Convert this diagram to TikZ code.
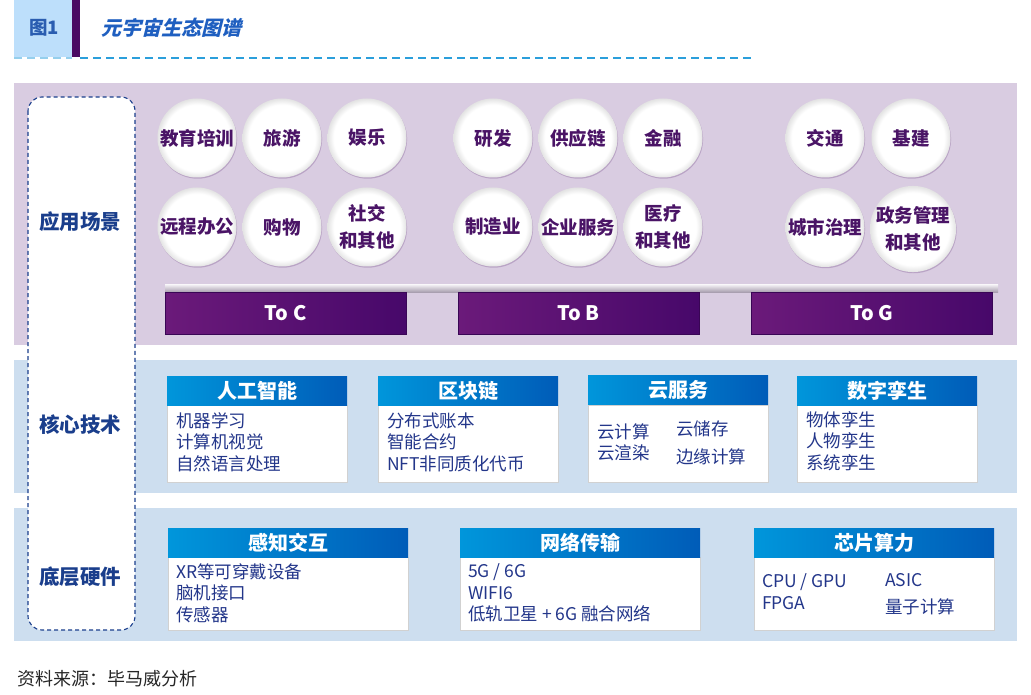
\documentclass[tikz,border=0pt]{standalone}
\usepackage{fontspec}
\setmainfont{Noto Sans CJK SC}
\usetikzlibrary{shadows}
\definecolor{purplebg}{HTML}{D9CCE1}
\definecolor{bluebg}{HTML}{CDDEEF}
\definecolor{titleblue}{HTML}{1F5FC0}
\definecolor{labelblue}{HTML}{1A3E8C}
\definecolor{bodyblue}{HTML}{23368A}
\definecolor{circtext}{HTML}{4A1466}
\definecolor{toleft}{HTML}{6B1A7A}
\definecolor{toright}{HTML}{47086A}
\definecolor{hdleft}{HTML}{0096DB}
\definecolor{hdright}{HTML}{005CB8}
\definecolor{dashblue}{HTML}{2B9FDB}
\definecolor{figbox}{HTML}{BDDFFB}
\definecolor{figbar}{HTML}{4A0A63}
\definecolor{figtext}{HTML}{2A5DB0}
\pgfdeclareradialshading{ballshade}{\pgfpoint{0bp}{0bp}}{color(0bp)=(white); color(21bp)=(white); color(25bp)=(black!11); color(50bp)=(black!11)}
\tikzset{
  bub/.style={circle, minimum size=79pt, inner sep=0pt, shading=ballshade, align=center,
    text=circtext, font=\fontsize{18.5}{26.5}\selectfont\bfseries,
    drop shadow={opacity=0.22, shadow xshift=0.6pt, shadow yshift=-1.2pt, fill=circtext}},
  tobox/.style={minimum width=241pt, minimum height=42pt, inner sep=0pt, left color=toleft, right color=toright,
    draw=toright!80!black, line width=0.4pt, text=white, font=\fontsize{20}{24}\selectfont\bfseries},
  hd/.style={minimum height=29pt, inner sep=0pt, left color=hdleft, right color=hdright,
    text=white, font=\fontsize{20}{24}\selectfont\bfseries},
  bodybox/.style={fill=white, draw=black!18, line width=0.5pt, inner sep=0pt,
    drop shadow={opacity=0.15, shadow xshift=0.8pt, shadow yshift=-0.8pt}},
  bodytxt/.style={anchor=west, align=left, inner sep=0pt, text=bodyblue, font=\fontsize{17.5}{21.5}\selectfont},
  sidelab/.style={text=labelblue, font=\fontsize{20.5}{24}\selectfont\bfseries},
}
\begin{document}
\begin{tikzpicture}[x=1pt,y=-1pt]
\useasboundingbox (0,0) rectangle (1031,695);
% header
\fill[figbox] (14,0) rectangle (72,57);
\fill[figbar] (72,0) rectangle (80,57);
\node[text=figtext, font=\fontsize{18.5}{22}\selectfont\bfseries] (fig) at (44,28) {图1};
\node[anchor=west, text=titleblue, font=\fontsize{20}{24}\selectfont\bfseries, xslant=0.25] (title) at (100,28) {元宇宙生态图谱};
\draw[dashblue!50, line width=2pt, dash pattern=on 8pt off 5pt] (14,58) -- (72,58);
\draw[dashblue, line width=2pt, dash pattern=on 8pt off 5pt] (80,58) -- (752,58);
% section backgrounds
\fill[purplebg] (14,83) rectangle (1017,345);
\fill[bluebg] (14,360) rectangle (1017,493);
\fill[bluebg] (14,508) rectangle (1017,641);
% left dashed box
\draw[fill=white, draw=labelblue, line width=1.1pt, dash pattern=on 4pt off 3pt, rounded corners=14pt] (28,97) rectangle (135,630);
\node[sidelab] (l1) at (80,222) {应用场景};
\node[sidelab] (l2) at (80,425) {核心技术};
\node[sidelab] (l3) at (80,577) {底层硬件};
% bubbles
\node[bub] (c1) at (197,138) {教育培训};
\node[bub] (c2) at (282,138) {旅游};
\node[bub] (c3) at (367,138) {娱乐};
\node[bub] (c4) at (197,227) {远程办公};
\node[bub] (c5) at (282,227) {购物};
\node[bub] (c6) at (367,227) {社交\\和其他};
\node[bub] (b1) at (493,138) {研发};
\node[bub] (b2) at (578,138) {供应链};
\node[bub] (b3) at (663,138) {金融};
\node[bub] (b4) at (493,227) {制造业};
\node[bub] (b5) at (578,227) {企业服务};
\node[bub] (b6) at (663,227) {医疗\\和其他};
\node[bub] (g1) at (825,138) {交通};
\node[bub] (g2) at (911,138) {基建};
\node[bub] (g3) at (825,227.5) {城市治理};
\node[bub] (g4) at (913,229) {政务管理\\和其他};
% grey bar and To boxes
\shade[top color=white!85!purplebg, bottom color=black!22!purplebg] (165,284) rectangle (998,292);
\node[tobox] (toc) at (285.5,313) {To C};
\node[tobox] (tob) at (578.5,313) {To B};
\node[tobox] (tog) at (871.5,313) {To G};
% core tech boxes
\node[bodybox, minimum width=180pt, minimum height=77pt] (aib) at (257,443.5) {};
\node[hd, minimum width=180pt] (aih) at (257,391) {人工智能};
\node[bodytxt] (ait) at (176,442) {机器学习\\计算机视觉\\自然语言处理};
\node[bodybox, minimum width=180pt, minimum height=77pt] (bcb) at (468,443.5) {};
\node[hd, minimum width=180pt] (bch) at (468,390.5) {区块链};
\node[bodytxt] (bct) at (387,442) {分布式账本\\智能合约\\NFT非同质化代币};
\node[bodybox, minimum width=180pt, minimum height=77pt] (clb) at (678,443.5) {};
\node[hd, minimum width=180pt] (clh) at (678,390) {云服务};
\node[bodytxt, font=\fontsize{17.5}{21}\selectfont] (clt1) at (597,442) {云计算\\云渲染};
\node[bodytxt, font=\fontsize{17.5}{28}\selectfont] (clt2) at (676,443) {云储存\\边缘计算};
\node[bodybox, minimum width=180pt, minimum height=77pt] (dtb) at (887,443.5) {};
\node[hd, minimum width=180pt] (dth) at (887,390.5) {数字孪生};
\node[bodytxt] (dtt) at (806,441) {物体孪生\\人物孪生\\系统孪生};
% hardware boxes
\node[bodybox, minimum width=240pt, minimum height=73pt] (sib) at (288,593.5) {};
\node[hd, minimum width=240pt] (sih) at (288,542.5) {感知交互};
\node[bodytxt] (sit) at (176,593) {XR等可穿戴设备\\脑机接口\\传感器};
\node[bodybox, minimum width=240pt, minimum height=73pt] (ntb) at (580,593.5) {};
\node[hd, minimum width=240pt] (nth) at (580,542.5) {网络传输};
\node[bodytxt] (ntt) at (468,593) {5G / 6G\\WIFI6\\低轨卫星 + 6G 融合网络};
\node[bodybox, minimum width=240pt, minimum height=73pt] (chb) at (874,593.5) {};
\node[hd, minimum width=240pt] (chh) at (874,542.5) {芯片算力};
\node[bodytxt, font=\fontsize{17.5}{22}\selectfont] (cht1) at (762,592) {CPU / GPU\\FPGA};
\node[bodytxt, font=\fontsize{17.5}{27}\selectfont] (cht2) at (885,594.5) {ASIC\\量子计算};
% footer
\node[anchor=west, inner sep=0pt, text=black!85, font=\fontsize{18}{20}\selectfont] (src) at (17,679) {资料来源：毕马威分析};
\end{tikzpicture}
\end{document}
